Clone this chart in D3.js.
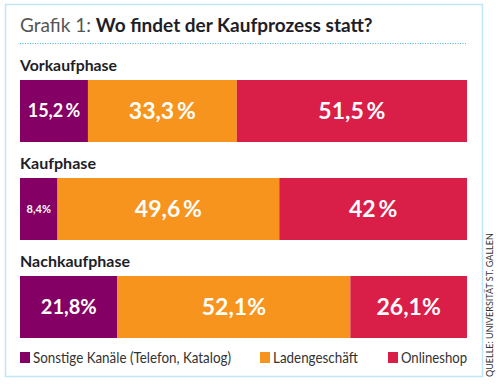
<!DOCTYPE html>
<html><head><meta charset="utf-8">
<script src="https://cdn.jsdelivr.net/npm/d3@7"></script>
<style>body{margin:0;background:#fff}svg{display:block}</style>
</head><body>
<script>
const phases = ["Vorkaufphase", "Kaufphase", "Nachkaufphase"];
const channels = ["Sonstige Kanäle (Telefon, Katalog)", "Ladengeschäft", "Onlineshop"];
const sonstige = [15.2, 8.4, 21.8];
const laden = [33.3, 49.6, 52.1];
const online = [51.5, 42, 26.1];
const valueLabels = [["15,2\u2009%", "33,3\u2009%", "51,5\u2009%"], ["8,4%", "49,6\u2009%", "42\u2009%"], ["21,8%", "52,1%", "26,1%"]];
const labelSizes = [[18, 23, 23], [11, 23, 23], [20, 23, 23]];
const colors = ["#840064", "#F7941E", "#D91E48"];

const W = 500, H = 384;
const font = "Lato, 'DejaVu Sans', sans-serif";
const svg = d3.select("body").append("svg").attr("width", W).attr("height", H);

svg.append("rect").attr("x", 5.5).attr("y", 4.5).attr("width", 477).attr("height", 372)
  .attr("fill", "none").attr("stroke", "#BFE5F6").attr("stroke-width", 1.5);

const title = svg.append("text").attr("x", 20).attr("y", 32).attr("font-family", font).attr("font-size", 19);
title.append("tspan").attr("fill", "#555").text("Grafik 1: ");
title.append("tspan").attr("fill", "#1e1e28").attr("font-weight", "bold").text("Wo findet der Kaufprozess statt?");

svg.append("line").attr("x1", 20).attr("x2", 467).attr("y1", 43.5).attr("y2", 43.5)
  .attr("stroke", "#4AB6DC").attr("stroke-width", 1.2).attr("stroke-dasharray", "1,1.5");

const x = d3.scaleLinear().domain([0, 100]).range([20, 467]);
const y = d3.scaleOrdinal().domain(phases).range([80, 178, 276]);
const barH = 62;
const phaseWidths = [97, 76, 110];

const rows = phases.map((p, i) => {
  const vals = [sonstige[i], laden[i], online[i]];
  let acc = 0;
  return vals.map((v, j) => { const s = acc; acc += v; return {phase: p, i, j, x0: s, x1: acc}; });
});

phases.forEach((p, i) => {
  svg.append("text").attr("x", 20).attr("y", y(p) - 9).attr("font-family", font)
    .attr("font-weight", "bold").attr("font-size", 15).attr("fill", "#1e1e28")
    .attr("textLength", phaseWidths[i]).attr("lengthAdjust", "spacingAndGlyphs").text(p);
  const g = svg.append("g");
  g.selectAll("rect").data(rows[i]).join("rect")
    .attr("x", d => x(d.x0)).attr("width", d => x(d.x1) - x(d.x0))
    .attr("y", y(p)).attr("height", barH).attr("fill", d => colors[d.j]);
  g.selectAll("text").data(rows[i]).join("text")
    .attr("x", d => (x(d.x0) + x(d.x1)) / 2).attr("y", y(p) + barH / 2)
    .attr("dy", "0.36em").attr("text-anchor", "middle")
    .attr("font-family", font).attr("font-weight", "bold")
    .attr("font-size", d => labelSizes[i][d.j]).attr("fill", "#fff")
    .text(d => valueLabels[i][d.j]);
});

const legendX = [20, 260, 388];
const legendW = [198, 85, 66];
const lg = svg.append("g").selectAll("g").data(channels).join("g")
  .attr("transform", (d, k) => `translate(${legendX[k]},352)`);
lg.append("rect").attr("width", 10).attr("height", 11).attr("fill", (d, k) => colors[k]);
lg.append("text").attr("x", 13).attr("y", 11).attr("font-family", font).attr("font-size", 15)
  .attr("fill", "#333").attr("textLength", (d, k) => legendW[k]).attr("lengthAdjust", "spacingAndGlyphs").text(d => d);

svg.append("text").attr("transform", "translate(493,377) rotate(-90)")
  .attr("font-family", font).attr("font-size", 9).attr("fill", "#333").text("QUELLE: UNIVERSITÄT ST. GALLEN");
</script>
</body></html>
